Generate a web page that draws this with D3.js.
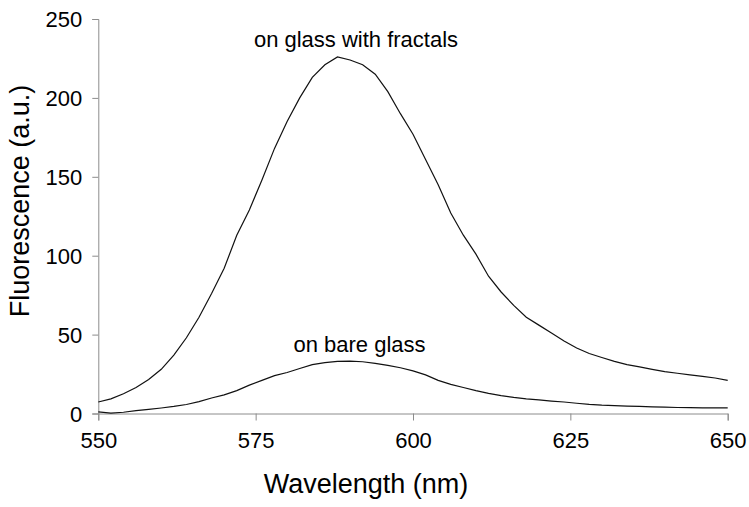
<!DOCTYPE html>
<html>
<head>
<meta charset="utf-8">
<script src="https://cdn.jsdelivr.net/npm/d3@7"></script>
<style>
  html, body { margin: 0; padding: 0; background: #fff; }
  svg { display: block; font-family: "Liberation Sans", Arial, sans-serif; }
</style>
</head>
<body>
<svg id="chart" width="749" height="507"></svg>
<script>
// Data
const wavelengths = d3.range(550, 651, 2);
const fractalValues = [7.3, 9.3, 12.5, 16.5, 21.5, 28, 37, 48, 61, 76,
  92, 113, 129, 148, 168, 185, 200, 213, 221, 226,
  224, 221, 215, 204, 190, 177, 161, 145, 127, 113,
  101, 87, 77, 68.5, 61, 56, 51, 46, 41.5, 38,
  35.5, 33, 31, 29.5, 28, 26.5, 25.5, 24.5, 23.5, 22.5, 21];
const bareValues = [1.0, 0.3, 0.8, 1.8, 2.6, 3.5, 4.5, 5.7, 7.5, 9.8,
  11.8, 14.5, 18, 21, 24, 26, 28.5, 31, 32.2, 33,
  33.2, 32.8, 31.8, 30.5, 29, 27, 24.5, 21, 18.5, 16.5,
  14.5, 12.8, 11.3, 10.2, 9.3, 8.6, 7.9, 7.3, 6.5, 5.8,
  5.3, 5.0, 4.7, 4.5, 4.2, 4.0, 3.8, 3.7, 3.6, 3.6, 3.6];
const xTicks = [550, 575, 600, 625, 650];
const yTicks = [0, 50, 100, 150, 200, 250];
const seriesLabels = ["on glass with fractals", "on bare glass"];
const xTitle = "Wavelength (nm)";
const yTitle = "Fluorescence (a.u.)";

const svg = d3.select("#chart");
const plotLeft = 98.3, plotRight = 727.7, plotTop = 19, plotBottom = 413.5;

const x = d3.scaleLinear().domain([550, 650]).range([plotLeft, plotRight]);
const y = d3.scaleLinear().domain([0, 250]).range([plotBottom, plotTop]);

const axisColor = "#8c8c8c";

// Y axis
const yAxis = svg.append("g")
  .attr("transform", `translate(${plotLeft},0)`)
  .call(d3.axisLeft(y).tickValues(yTicks).tickSize(6).tickPadding(10).tickFormat(d3.format("d")));
// X axis
const xAxis = svg.append("g")
  .attr("transform", `translate(0,${plotBottom})`)
  .call(d3.axisBottom(x).tickValues(xTicks).tickSize(7).tickPadding(12).tickFormat(d3.format("d")));

[xAxis, yAxis].forEach(g => {
  g.select(".domain").attr("stroke", axisColor).attr("stroke-width", 1);
  g.selectAll(".tick line").attr("stroke", axisColor).attr("stroke-width", 1);
  g.selectAll(".tick text")
    .attr("fill", "#000")
    .style("font-family", '"Liberation Sans", Arial, sans-serif')
    .style("font-size", "22px");
});
yAxis.selectAll(".tick text").attr("dy", "0.36em");

// Lines
const line = d3.line().x((d, i) => x(wavelengths[i])).y(d => y(d));
[fractalValues, bareValues].forEach(vals => {
  svg.append("path")
    .datum(vals)
    .attr("d", line)
    .attr("fill", "none")
    .attr("stroke", "#111")
    .attr("stroke-width", 1.2);
});

// Series annotations
svg.append("text")
  .attr("x", 356).attr("y", 47)
  .attr("text-anchor", "middle")
  .style("font-size", "22px")
  .text(seriesLabels[0]);
svg.append("text")
  .attr("x", 359.5).attr("y", 352)
  .attr("text-anchor", "middle")
  .style("font-size", "22px")
  .text(seriesLabels[1]);

// Axis titles
svg.append("text")
  .attr("x", 366).attr("y", 493)
  .attr("text-anchor", "middle")
  .style("font-size", "27px")
  .text(xTitle);
svg.append("text")
  .attr("transform", "translate(29,201) rotate(-90)")
  .attr("text-anchor", "middle")
  .style("font-size", "27px")
  .text(yTitle);
</script>
</body>
</html>
